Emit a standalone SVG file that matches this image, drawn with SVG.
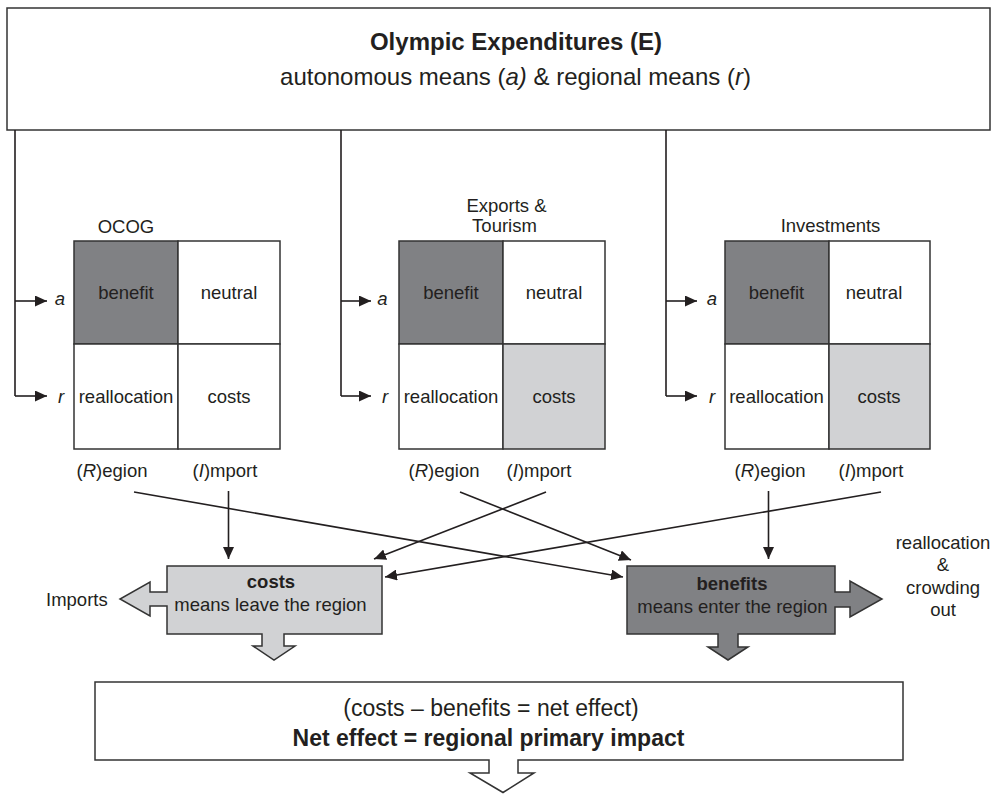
<svg xmlns="http://www.w3.org/2000/svg" width="998" height="794" viewBox="0 0 998 794">
<style>
text{font-family:"Liberation Sans",Arial,Helvetica,sans-serif;fill:#231f20;font-size:18.5px}
.c{text-anchor:middle}
.b{font-weight:bold}
.i{font-style:italic}
.box{fill:#fff;stroke:#333;stroke-width:1.5}
.dark{fill:#808184;stroke:#333;stroke-width:1.5}
.light{fill:#d1d2d4;stroke:#333;stroke-width:1.5}
.white{fill:#fff;stroke:#333;stroke-width:1.5}
.ln{fill:none;stroke:#231f20;stroke-width:1.6}
.arr{fill:none;stroke:#231f20;stroke-width:1.6;marker-end:url(#ah)}
</style>
<defs>
<marker id="ah" markerUnits="userSpaceOnUse" markerWidth="12" markerHeight="11" refX="12" refY="5.5" orient="auto">
<path d="M0,0 L12,5.5 L0,11 Z" fill="#231f20"/>
</marker>
</defs>

<g id="expenditures">
<rect class="box" x="7" y="8" width="983" height="122"/>
<text class="c b" x="516" y="50" font-size="24" style="font-size:24px">Olympic Expenditures (E)</text>
<text class="c" x="515.5" y="85" style="font-size:24px">autonomous means (<tspan class="i">a)</tspan> &amp; regional means (<tspan class="i">r</tspan>)</text>
</g>

<g id="ocog">
<text class="c" x="126" y="233">OCOG</text>
<rect class="dark" x="74" y="241" width="104" height="103"/>
<rect class="white" x="178" y="241" width="102" height="103"/>
<rect class="white" x="74" y="344" width="104" height="105"/>
<rect class="white" x="178" y="344" width="102" height="105"/>
<text class="c" x="126" y="299">benefit</text>
<text class="c" x="229" y="299">neutral</text>
<text class="c" x="126" y="403">reallocation</text>
<text class="c" x="229" y="403">costs</text>
<text class="c i" x="60" y="305">a</text>
<text class="c i" x="61" y="403">r</text>
<text class="c" x="112" y="477">(<tspan class="i">R</tspan>)egion</text>
<text class="c" x="225" y="477">(<tspan class="i">I</tspan>)mport</text>
</g>

<g id="exports">
<text class="c" x="506.5" y="211.5">Exports &amp;</text>
<text class="c" x="504.5" y="232">Tourism</text>
<rect class="dark" x="399" y="241" width="104" height="103"/>
<rect class="white" x="503" y="241" width="102" height="103"/>
<rect class="white" x="399" y="344" width="104" height="105"/>
<rect class="light" x="503" y="344" width="102" height="105"/>
<text class="c" x="451" y="299">benefit</text>
<text class="c" x="554" y="299">neutral</text>
<text class="c" x="451" y="403">reallocation</text>
<text class="c" x="554" y="403">costs</text>
<text class="c i" x="382.5" y="305">a</text>
<text class="c i" x="385" y="403">r</text>
<text class="c" x="444" y="477">(<tspan class="i">R</tspan>)egion</text>
<text class="c" x="539" y="477">(<tspan class="i">I</tspan>)mport</text>
</g>

<g id="investments">
<text class="c" x="830.5" y="232">Investments</text>
<rect class="dark" x="725" y="241" width="104" height="103"/>
<rect class="white" x="829" y="241" width="101" height="103"/>
<rect class="white" x="725" y="344" width="104" height="105"/>
<rect class="light" x="829" y="344" width="101" height="105"/>
<text class="c" x="776.5" y="299">benefit</text>
<text class="c" x="874" y="299">neutral</text>
<text class="c" x="776.5" y="403">reallocation</text>
<text class="c" x="879" y="403">costs</text>
<text class="c i" x="712" y="305">a</text>
<text class="c i" x="712" y="403">r</text>
<text class="c" x="770" y="477">(<tspan class="i">R</tspan>)egion</text>
<text class="c" x="871" y="477">(<tspan class="i">I</tspan>)mport</text>
</g>

<g id="connectors">
<path class="ln" d="M15,130 V396 M341,130 V396 M666,130 V396"/>
<line class="arr" x1="15" y1="301" x2="47" y2="301"/>
<line class="arr" x1="15" y1="396" x2="47" y2="396"/>
<line class="arr" x1="341" y1="301" x2="371" y2="301"/>
<line class="arr" x1="341" y1="396" x2="371" y2="396"/>
<line class="arr" x1="666" y1="301" x2="697" y2="301"/>
<line class="arr" x1="666" y1="396" x2="697" y2="396"/>
<line class="arr" x1="134" y1="492" x2="623" y2="577"/>
<line class="arr" x1="228.5" y1="491" x2="228.5" y2="559"/>
<line class="arr" x1="460" y1="492" x2="631" y2="560"/>
<line class="arr" x1="546" y1="492" x2="374" y2="559"/>
<line class="arr" x1="768.5" y1="491" x2="768.5" y2="559"/>
<line class="arr" x1="881" y1="492" x2="385" y2="577"/>
</g>

<g id="costs">
<path class="light" d="M167,566 H382 V634 H284 V646 H295 L274,660 L253,646 H262 V634 H167 V606 H150 V616 L120,599 L150,582 V592 H167 Z"/>
<text class="c b" x="271" y="588">costs</text>
<text class="c" x="270.5" y="611">means leave the region</text>
</g>

<g id="imports">
<text x="46" y="606">Imports</text>
</g>

<g id="benefits">
<path class="dark" d="M627,566 H835 V592 H850 V581 L882,599 L850,617 V607 H835 V634 H738 V647 H748 L728,660 L708,647 H718 V634 H627 Z"/>
<text class="c b" x="732" y="590">benefits</text>
<text class="c" x="732.5" y="613">means enter the region</text>
</g>

<g id="reallocation-crowding">
<text class="c" x="943" y="549">reallocation</text>
<text class="c" x="943" y="571">&amp;</text>
<text class="c" x="943" y="594">crowding</text>
<text class="c" x="943" y="616">out</text>
</g>

<g id="net-effect">
<path class="box" d="M95,682 H903 V760 H518 V773 H534 L503,792.5 L470,773 H489 V760 H95 Z"/>
<text class="c" x="491" y="716" style="font-size:23px">(costs – benefits = net effect)</text>
<text class="c b" x="488.5" y="746" style="font-size:23px">Net effect = regional primary impact</text>
</g>
</svg>
